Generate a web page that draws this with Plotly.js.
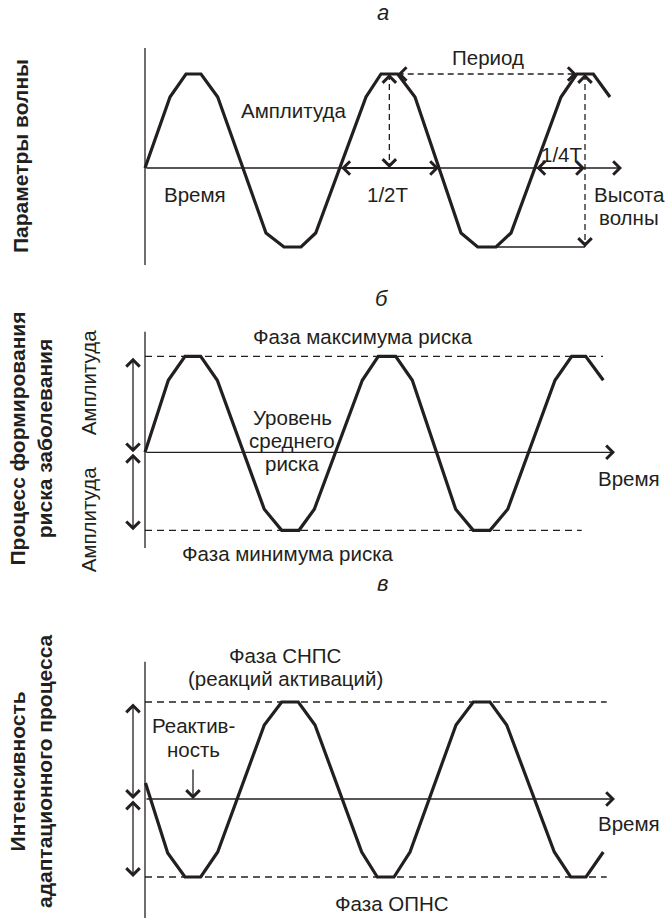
<!DOCTYPE html>
<html>
<head>
<meta charset="utf-8">
<script src="https://cdn.plot.ly/plotly-3.0.1.min.js"></script>
<style>
  html, body { margin: 0; padding: 0; background: #ffffff; }
  #chart { width: 667px; height: 918px; }
</style>
</head>
<body>
<div id="chart"></div>
<script>
// ---------------- DATA ----------------
// time units from the origin of each panel; level units relative to the time axis
const waveA_t = [0, 25, 41, 56, 72.7, 121, 139, 156, 170.7, 221, 236, 252.7, 270, 316, 332.7, 351, 366, 416, 431.7, 448.3, 465];
const waveA_y = [0, 71, 94, 94, 71, -65, -79, -79, -65, 71, 94, 94, 71, -65, -79, -79, -65, 71, 94, 94, 71];

const waveB_t = [0, 23.3, 40, 55.7, 72.3, 119.3, 136.7, 154, 169.3, 217.3, 233.3, 250.7, 267.3, 310.7, 328.3, 345, 362.7, 410, 426.7, 440.7, 458.3];
const waveB_y = [0, 72, 96, 96, 72, -57, -78, -78, -57, 72, 96, 96, 72, -57, -78, -78, -57, 72, 96, 96, 72];

const waveC_t = [0.5, 22.7, 40, 55.7, 72.7, 119.3, 136.7, 153.3, 170, 216.7, 232.3, 249, 265, 311, 328.3, 345, 361.7, 409.3, 425.7, 441, 458.3];
const waveC_y = [16, -54, -78, -78, -53, 74, 97, 97, 74, -53, -78, -78, -53, 74, 97, 97, 74, -53, -78, -78, -53];

const panelLetters = ['а', 'б', 'в'];
const panelTitles = ['Параметры волны', 'Процесс формирования<br>риска заболевания', 'Интенсивность<br>адаптационного процесса'];
const timeLabel = 'Время';
const labelsA = { period: 'Период', amplitude: 'Амплитуда', half: '1/2T', quarter: '1/4T', height: ['Высота', 'волны'] };
const labelsB = { max: 'Фаза максимума риска', mean: ['Уровень', 'среднего', 'риска'], min: 'Фаза минимума риска', amplitude: 'Амплитуда' };
const labelsC = { max: ['Фаза СНПС', '(реакций активаций)'], react: ['Реактив-', 'ность'], min: 'Фаза ОПНС' };

// ---------------- STYLE ----------------
const ink = '#231f20';
const FONT = 'Liberation Sans, Arial, Helvetica, sans-serif';
const FS = 20.5;
const TFS = 21;
const HEAD = 2.6;

const shapes = [];
const annotations = [];

function crossing(ts, ys, i) { // zero crossing between vertex i and i+1
  const t0 = ts[i], t1 = ts[i + 1], y0 = ys[i], y1 = ys[i + 1];
  return t0 + (0 - y0) / (y1 - y0) * (t1 - t0);
}
function line(x0, y0, x1, y1, yref, width, dash) {
  shapes.push({ type: 'line', xref: 'x', yref: yref, x0: x0, y0: y0, x1: x1, y1: y1,
    line: { color: ink, width: width || 1.3, dash: dash || 'solid' }, layer: 'above' });
}
function arrow(x0, y0, x1, y1, yref, both, width) {
  const w = width || 1.3;
  annotations.push({ xref: 'x', yref: yref, axref: 'x', ayref: yref, x: x1, y: y1, ax: x0, ay: y0,
    text: '', showarrow: true, arrowhead: 4, arrowsize: HEAD / w, arrowwidth: w, arrowcolor: ink,
    arrowside: both ? 'end+start' : 'end', standoff: 0, startstandoff: 0 });
}
function dashedArrow(x0, y0, x1, y1, yref) {
  line(x0, y0, x1, y1, yref, 1.3, '6px,4px');
  const L = Math.hypot(x1 - x0, y1 - y0), ux = (x1 - x0) / L, uy = (y1 - y0) / L, s = 6;
  arrow(x1 - ux * s, y1 - uy * s, x1, y1, yref, false);
  arrow(x0 + ux * s, y0 + uy * s, x0, y0, yref, false);
}
function text(t, x, y, yref, opts) {
  opts = opts || {};
  annotations.push({ xref: 'x', yref: yref, x: x, y: y, text: t, showarrow: false,
    xanchor: opts.xanchor || 'center', yanchor: 'middle', textangle: opts.angle || 0,
    font: { family: FONT, size: opts.size || FS, color: ink }, align: 'center' });
}
function lines(arr, x, yc, yref, gap) {
  const n = arr.length;
  arr.forEach((t, i) => text(t, x, yc + ((n - 1) / 2 - i) * gap, yref));
}

// ---------------- PANEL A ----------------
line(0, 120, 0, -97, 'y');
arrow(0, 0, 477, 0, 'y', false);
const peakA2 = (waveA_t[10] + waveA_t[11]) / 2;
const peakA3 = (waveA_t[18] + waveA_t[19]) / 2;
const topA = Math.max(...waveA_y), botA = Math.min(...waveA_y);
dashedArrow(peakA2, topA, peakA2, 0, 'y');
arrow(crossing(waveA_t, waveA_y, 8), 0, crossing(waveA_t, waveA_y, 12), 0, 'y', true, 2.2);
arrow(crossing(waveA_t, waveA_y, 16), 0, peakA3, 0, 'y', true, 2.2);
dashedArrow(waveA_t[11], topA, waveA_t[18], topA, 'y');
dashedArrow(peakA3, topA, peakA3, botA, 'y');
line(waveA_t[15], botA, peakA3, botA, 'y', 1.3);

text('<i>' + panelLetters[0] + '</i>', 238, 156, 'y', { size: 22 });
text(labelsA.period, 343, 111, 'y');
text(labelsA.amplitude, 148, 58, 'y');
text(timeLabel, 50, -26, 'y');
text(labelsA.half, 242, -26, 'y');
text(labelsA.quarter, 416, 14, 'y');
lines(labelsA.height, 484, -37.5, 'y', 23);
text('<b>' + panelTitles[0] + '</b>', -125, 12, 'y', { angle: -90, size: TFS });

// ---------------- PANEL B ----------------
const topB = Math.max(...waveB_y), botB = Math.min(...waveB_y);
line(0, 120.6, 0, -95.7, 'y2');
arrow(0, 0, 470, 0, 'y2', false);
line(0, topB, 458, topB, 'y2', 1.3, '7px,5px');
line(0, botB, 436.7, botB, 'y2', 1.3, '7px,5px');
arrow(-12, topB, -12, 0, 'y2', true);
arrow(-12, 0, -12, botB, 'y2', true);

text('<i>' + panelLetters[1] + '</i>', 237, 154, 'y2', { size: 22 });
text(labelsB.max, 218, 116, 'y2');
lines(labelsB.mean, 147, 12.3, 'y2', 23);
text(timeLabel, 484, -26, 'y2');
text(labelsB.min, 143, -101, 'y2');
text(labelsB.amplitude, -57, 69, 'y2', { angle: -90 });
text(labelsB.amplitude, -57, -68, 'y2', { angle: -90 });
text('<b>' + panelTitles[1] + '</b>', -114.5, 13.3, 'y2', { angle: -90, size: TFS });

// ---------------- PANEL C ----------------
const topC = Math.max(...waveC_y), botC = Math.min(...waveC_y);
line(0, 137.3, 0, -119, 'y3');
arrow(0, 0, 470, 0, 'y3', false);
line(0, topC, 461.7, topC, 'y3', 1.3, '7px,5px');
line(0, botC, 461.7, botC, 'y3', 1.3, '7px,5px');
arrow(-12, topC, -12, 0, 'y3', true);
arrow(-12, 0, -12, botC, 'y3', true);
arrow(48, 31, 48, 0, 'y3', false);

text('<i>' + panelLetters[2] + '</i>', 237, 216, 'y3', { size: 22 });
lines(labelsC.max, 140, 132.5, 'y3', 23);
lines(labelsC.react, 48, 62, 'y3', 24);
text(timeLabel, 484, -24, 'y3');
text(labelsC.min, 247, -104, 'y3');
text('<b>' + panelTitles[2] + '</b>', -114.5, 27.5, 'y3', { angle: -90, size: TFS });

// ---------------- TRACES ----------------
const waveLine = { color: ink, width: 3.2, shape: 'linear' };
const traces = [
  { x: waveA_t, y: waveA_y, xaxis: 'x', yaxis: 'y', mode: 'lines', line: waveLine, hoverinfo: 'skip', showlegend: false },
  { x: waveB_t, y: waveB_y, xaxis: 'x', yaxis: 'y2', mode: 'lines', line: waveLine, hoverinfo: 'skip', showlegend: false },
  { x: waveC_t, y: waveC_y, xaxis: 'x', yaxis: 'y3', mode: 'lines', line: waveLine, hoverinfo: 'skip', showlegend: false }
];

const H = 918;
function yax(origin, extra) {
  return Object.assign({ range: [origin - H, origin], domain: [0, 1], visible: false, fixedrange: true }, extra || {});
}
const layout = {
  width: 667, height: 918,
  margin: { l: 0, r: 0, t: 0, b: 0, pad: 0 },
  paper_bgcolor: '#ffffff', plot_bgcolor: '#ffffff',
  showlegend: false,
  xaxis: { range: [-145, 522], domain: [0, 1], visible: false, fixedrange: true },
  yaxis: yax(168),
  yaxis2: yax(452.3, { overlaying: 'y' }),
  yaxis3: yax(799, { overlaying: 'y' }),
  shapes: shapes,
  annotations: annotations,
  font: { family: FONT, color: ink }
};
Plotly.newPlot('chart', traces, layout, { staticPlot: true, displayModeBar: false });
</script>
</body>
</html>
